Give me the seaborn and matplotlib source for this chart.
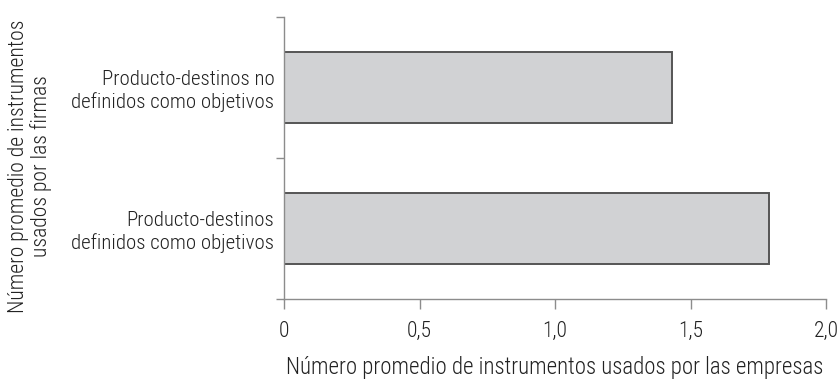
import matplotlib
matplotlib.use("Agg")
import matplotlib.pyplot as plt
import seaborn as sns
import pandas as pd
from matplotlib.ticker import FixedLocator

categories = ["Producto-destinos no\ndefinidos como objetivos",
              "Producto-destinos\ndefinidos como objetivos"]
values = [1.43, 1.79]
x_ticks = [0, 0.5, 1.0, 1.5, 2.0]
x_tick_labels = ["0", "0,5", "1,0", "1,5", "2,0"]

sns.set_style("white")
plt.rcParams["font.family"] = ["Roboto Condensed", "DejaVu Sans"]
plt.rcParams["font.weight"] = 300

TEXT = "#222222"
FS = 15

df = pd.DataFrame({"categoria": categories, "valor": values})

fig = plt.figure(figsize=(8.4, 3.79), dpi=100)
ax = fig.add_axes([284 / 840, 1 - 299 / 379, (826 - 284) / 840, (299 - 17) / 379])

sns.barplot(data=df, x="valor", y="categoria", orient="h", ax=ax,
            color="#d1d2d4", edgecolor="#555555", linewidth=1.4, width=0.5,
            saturation=1)

axis_color = "#8c8c8c"
ax.set_xlim(0, 2.0)
ax.set_ylim(1.5, -0.5)
for side in ["top", "right"]:
    ax.spines[side].set_visible(False)
for side in ["left", "bottom"]:
    ax.spines[side].set_color(axis_color)
    ax.spines[side].set_linewidth(1.0)

ax.set_xticks(x_ticks)
ax.set_xticklabels(x_tick_labels, fontsize=15.5, color=TEXT, fontweight=300)
ax.tick_params(axis="x", direction="out", length=7, width=1.0, color=axis_color, pad=9, bottom=True)

ax.yaxis.set_minor_locator(FixedLocator([-0.5, 0.5, 1.5]))
ax.tick_params(axis="y", which="minor", direction="out", length=6, width=1.0, color=axis_color, left=True)
ax.tick_params(axis="y", which="major", length=0, pad=7)
for lbl in ax.get_yticklabels():
    lbl.set_fontsize(FS)
    lbl.set_fontweight(300)
    lbl.set_color(TEXT)
    lbl.set_horizontalalignment("right")
    lbl.set_multialignment("right")

ax.set_ylabel("")
ax.set_xlabel("")

# axis titles placed in figure coordinates
fig.text(555 / 840, 1 - 374 / 379,
         "Número promedio de instrumentos usados por las empresas",
         ha="center", va="baseline", fontsize=16.5, fontweight=300, color=TEXT)

fig.text(30 / 840, 1 - 166 / 379,
         "Número promedio de instrumentos\nusados por las firmas",
         rotation=90, ha="center", va="center", fontsize=15.6, fontweight=300,
         color=TEXT, multialignment="center", linespacing=1.1)

fig.savefig("out.png", dpi=100)
